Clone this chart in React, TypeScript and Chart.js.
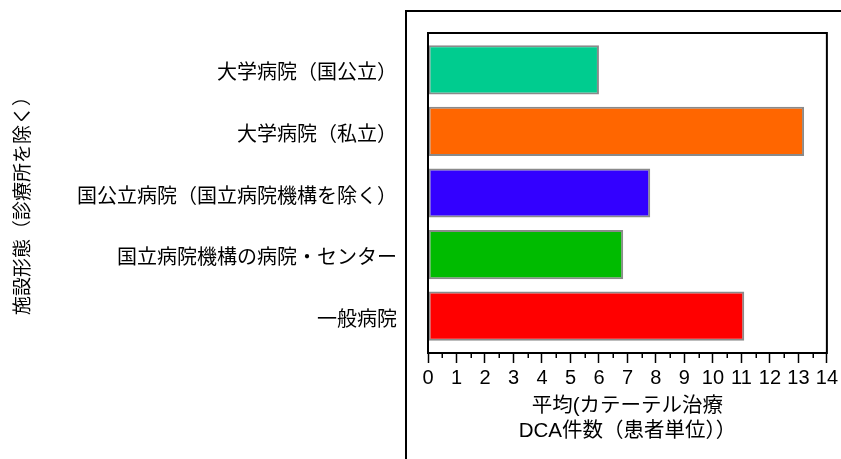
import React, { useEffect, useRef } from "react";
import { Chart, registerables } from "chart.js";

Chart.register(...registerables);

const categories = [
  "大学病院（国公立）",
  "大学病院（私立）",
  "国公立病院（国立病院機構を除く）",
  "国立病院機構の病院・センター",
  "一般病院",
];
const values = [6.0, 13.2, 7.8, 6.85, 11.1];
const barColors = ["#00CC8F", "#FF6600", "#3300FF", "#00BB00", "#FF0000"];
const xTitle = ["平均(カテーテル治療", "DCA件数（患者単位））"];
const yTitle = "施設形態（診療所を除く）";
const xMin = 0;
const xMax = 14;

const FONT = "'Liberation Sans', Arial, 'Noto Sans CJK JP', sans-serif";

const framePlugin = {
  id: "framePlugin",
  afterDraw(chart: any) {
    const { ctx, chartArea, scales } = chart;
    const xs = scales.x;
    ctx.save();
    ctx.strokeStyle = "#000";
    // outer frame (top + left)
    ctx.lineWidth = 2;
    ctx.beginPath();
    ctx.moveTo(chart.width, chartArea.top - 22);
    ctx.lineTo(chartArea.left - 22, chartArea.top - 22);
    ctx.lineTo(chartArea.left - 22, chart.height);
    ctx.stroke();
    // plot box
    ctx.strokeRect(chartArea.left, chartArea.top, chartArea.right - chartArea.left, chartArea.bottom - chartArea.top);
    // minor ticks
    ctx.lineWidth = 1.5;
    const ticks = xs.ticks;
    for (let i = 0; i < ticks.length - 1; i++) {
      const v = (ticks[i].value + ticks[i + 1].value) / 2;
      const px = Math.round(xs.getPixelForValue(v)) + 0.25;
      ctx.beginPath();
      ctx.moveTo(px, chartArea.bottom);
      ctx.lineTo(px, chartArea.bottom + 5);
      ctx.stroke();
    }
    // y-axis title (rotated)
    ctx.fillStyle = "#000";
    ctx.font = `19px ${FONT}`;
    ctx.textAlign = "center";
    ctx.textBaseline = "middle";
    ctx.translate(24, (chartArea.top + chartArea.bottom) / 2 + 8);
    ctx.rotate(-Math.PI / 2);
    ctx.fillText(yTitle, 0, 0);
    ctx.restore();
  },
};

export default function App() {
  const ref = useRef<HTMLCanvasElement>(null);
  useEffect(() => {
    document.body.style.margin = "0";
    const canvas = ref.current!;
    const chart = new Chart(canvas, {
      type: "bar",
      data: {
        datasets: [
          {
            data: values.map((v, i) => ({ x: v, y: i })),
            backgroundColor: barColors,
            borderColor: "#8A8A8A",
            borderWidth: 2,
            borderSkipped: false,
            categoryPercentage: 1,
            barPercentage: 0.8,
          },
        ],
      },
      options: {
        indexAxis: "y",
        animation: false,
        responsive: false,
        maintainAspectRatio: false,
        layout: { padding: { left: 9, top: 33, right: 12, bottom: 15 } },
        plugins: { legend: { display: false }, tooltip: { enabled: false } },
        scales: {
          x: {
            type: "linear",
            min: xMin,
            max: xMax,
            ticks: {
              stepSize: 1,
              color: "#000",
              padding: 3,
              maxRotation: 0,
              autoSkip: false,
              font: { family: FONT, size: 20 },
            },
            grid: {
              display: true,
              drawOnChartArea: false,
              drawTicks: true,
              tickLength: 10,
              tickColor: "#000",
              tickWidth: 1.5,
            },
            border: { display: true, color: "#000", width: 2 },
            title: {
              display: true,
              text: xTitle,
              color: "#000",
              font: { family: FONT, size: 20.5, lineHeight: 25 / 20.5 },
              padding: { top: 0, bottom: 0 },
            },
            afterFit(scale: any) {
              scale.height = 91;
            },
          },
          y: {
            type: "linear",
            offset: false,
            min: -0.6,
            max: categories.length - 0.4,
            reverse: true,
            afterBuildTicks(scale: any) {
              scale.ticks = categories.map((_, i) => ({ value: i }));
            },
            ticks: {
              color: "#000",
              padding: 31,
              labelOffset: 4,
              autoSkip: false,
              font: { family: FONT, size: 20 },
              callback: (v: any) => categories[v] ?? "",
            },
            grid: { display: false, drawTicks: false },
            border: { display: false },
            title: { display: false },
            afterFit(scale: any) {
              scale.width = 428 - 9;
              scale.paddingTop = 0;
              scale.paddingBottom = 0;
            },
          },
        },
      },
      plugins: [framePlugin],
    });
    return () => chart.destroy();
  }, []);
  return <canvas ref={ref} width={841} height={459} style={{ display: "block" }} />;
}
